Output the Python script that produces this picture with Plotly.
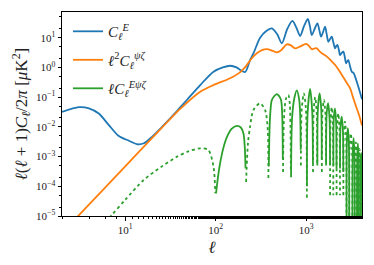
import plotly.graph_objects as go
import math

# ---- data ----
ell_E = [2, 3.08, 3.97, 5.1, 6.6, 8.5, 11, 13.6, 16.1, 19.9, 25.6, 36, 40.5, 48, 67.5, 94.7, 120,
         144.5, 170, 187, 212, 240, 262, 310, 360, 418, 480, 539, 620, 706, 790, 859, 950, 1045,
         1100, 1156, 1245, 1334, 1400, 1465, 1545, 1622, 1690, 1763, 1840, 1922, 2000, 2091,
         2150, 2218, 2300, 2375, 2480, 2583, 2680, 2767, 2850, 2931, 3060, 3199, 3350, 3478,
         3782, 4150]
C_E = [0.032, 0.046, 0.042, 0.028, 0.0114, 0.0049, 0.0034, 0.0026, 0.0028, 0.0047, 0.01, 0.03,
       0.045, 0.08, 0.255, 0.72, 1.0, 1.14, 1.0, 0.82, 0.7, 1.77, 3.0, 10, 16.5, 20.7, 13, 6.5,
       20, 37, 20, 11.4, 25, 42.7, 25, 12.3, 20, 30.5, 18, 10.8, 16, 23.5, 13, 7.3, 9, 10.8, 7,
       4.4, 5.2, 5.7, 4, 2.6, 3.1, 3.4, 2.2, 1.37, 1.6, 1.77, 1.1, 0.72, 0.65, 0.49, 0.224,
       0.085]

ell_psi = [2, 3.08, 10, 20, 40.5, 67.5, 94.7, 144.5, 179, 200, 221, 250, 285, 330, 368, 420, 474,
           530, 612, 680, 755, 850, 1000, 1080, 1156, 1230, 1313, 1420, 1490, 1700, 1922, 2150,
           2375, 2600, 2820, 3062, 3330, 3600, 3850, 4150]
C_psi = [2.7e-6, 1.07e-5, 4.7e-4, 0.0043, 0.04, 0.152, 0.255, 0.43, 0.63, 0.85, 1.2, 2.0, 3.0,
         3.9, 4.15, 3.7, 3.2, 3.8, 6.0, 5.5, 4.4, 5.0, 6.2, 5.2, 4.1, 4.3, 4.4, 3.4, 3.0, 2.3,
         1.6, 1.1, 0.7, 0.45, 0.3, 0.2, 0.09, 0.045, 0.025, 0.011]

# cross spectrum: positive part (solid), arches separated by None
ell_Epsi_pos = [101, 106, 112, 122, 133, 150, 171, 190, 203, 210, 214, None,
                387, 395, 405, 418, 474, 525, 543, 553, None,
                682, 700, 740, 789, 840, 862, 872, None,
                1022, 1040, 1107, 1170, 1190, None,
                1332, 1350, 1410, 1470, 1490, None,
                1665, 1690, 1750, 1815, 1840, None,
                2002, 2025, 2085, 2145, 2170, None,
                2372, 2400, 2475, 2550, 2580, None,
                2802, 2830, 2900, 2970, 3000, None,
                3252, 3280, 3350, 3420, 3450, None,
                3652, 3680, 3735, 3790, 3820, None,
                3982, 4010, 4080, 4140, 4160]
C_Epsi_pos = [5.8e-5, 2e-4, 6e-4, 2e-3, 4.5e-3, 8.5e-3, 0.0108, 0.0095, 0.006, 0.002, 4e-4, None,
              4.6e-4, 0.01, 0.04, 0.08, 0.127, 0.085, 0.03, 8e-4, None,
              2e-4, 0.02, 0.09, 0.17, 0.08, 0.02, 1.7e-3, None,
              1e-4, 0.03, 0.19, 0.03, 6e-4, None,
              5e-4, 0.04, 0.134, 0.04, 8e-4, None,
              5e-4, 0.03, 0.063, 0.02, 5e-4, None,
              5e-4, 0.02, 0.042, 0.015, 4e-4, None,
              4e-4, 0.01, 0.022, 0.008, 3e-4, None,
              1e-5, 0.004, 0.009, 0.003, 1e-6, None,
              1e-6, 0.0015, 0.0042, 0.0012, 1e-6, None,
              1e-6, 0.001, 0.0028, 0.001, 1e-6, None,
              1e-6, 8e-4, 0.0013, 5e-4, 1e-6]

# cross spectrum: negative part (dotted), magnitude
ell_Epsi_neg = [5, 7.1, 10, 15.9, 25, 37.2, 50, 67.5, 83, 94.7, 99, None,
                217, 228, 240, 262, 310, 352, 375, 383, None,
                556, 570, 600, 637, 660, 672, 678, None,
                875, 895, 945, 995, 1019, None,
                1193, 1210, 1259, 1310, 1328, None,
                1493, 1515, 1575, 1640, 1661, None,
                1843, 1865, 1920, 1975, 1998, None,
                2173, 2200, 2270, 2340, 2368, None,
                2583, 2610, 2690, 2770, 2798, None,
                3003, 3030, 3120, 3220, 3248, None,
                3453, 3480, 3550, 3620, 3648, None,
                3823, 3845, 3900, 3955, 3978]
C_Epsi_neg = [3e-6, 1.07e-5, 3.5e-5, 1.6e-4, 4.5e-4, 9.8e-4, 1.5e-3, 1.9e-3, 1.66e-3, 4.6e-4, 5.8e-5, None,
              1.4e-4, 3e-3, 0.01, 0.037, 0.062, 0.037, 0.01, 1.5e-4, None,
              3e-4, 0.02, 0.09, 0.118, 0.06, 0.01, 3e-4, None,
              5e-4, 0.04, 0.134, 0.04, 3.4e-5, None,
              3e-4, 0.03, 0.10, 0.03, 5e-4, None,
              3e-4, 0.03, 0.08, 0.025, 5e-4, None,
              5e-5, 0.015, 0.045, 0.015, 5e-5, None,
              5e-5, 0.01, 0.028, 0.009, 5e-5, None,
              5e-5, 0.006, 0.015, 0.005, 1e-5, None,
              1e-6, 0.002, 0.006, 0.002, 1e-6, None,
              1e-6, 0.001, 0.003, 0.001, 1e-6, None,
              1e-6, 6e-4, 0.0018, 6e-4, 1e-6]

x_tickvals = [10, 100, 1000]
x_ticktext = ["10<sup>1</sup>", "10<sup>2</sup>", "10<sup>3</sup>"]
y_tickvals = [1e1, 1e0, 1e-1, 1e-2, 1e-3, 1e-4, 1e-5]
y_ticktext = ["10<sup>1</sup>", "10<sup>0</sup>", "10<sup>\u22121</sup>", "10<sup>\u22122</sup>",
              "10<sup>\u22123</sup>", "10<sup>\u22124</sup>", "10<sup>\u22125</sup>"]

BLUE, ORANGE, GREEN = "#1f77b4", "#ff7f0e", "#2ca02c"
FONT = "Liberation Serif"

fig = go.Figure()
fig.add_trace(go.Scatter(x=ell_E, y=C_E, mode="lines", legendgroup="a",
                         name="<i>C</i><sub><i>ℓ</i></sub><sup><i>E</i></sup>",
                         line=dict(color=BLUE, width=1.8, shape="spline", smoothing=0.8)))
fig.add_trace(go.Scatter(x=ell_psi, y=C_psi, mode="lines", legendgroup="b",
                         name="<i>ℓ</i><sup>2</sup><i>C</i><sub><i>ℓ</i></sub><sup><i>ψζ</i></sup>",
                         line=dict(color=ORANGE, width=1.8, shape="spline", smoothing=0.8)))
fig.add_trace(go.Scatter(x=ell_Epsi_pos, y=C_Epsi_pos, mode="lines", legendgroup="c",
                         name="<i>ℓC</i><sub><i>ℓ</i></sub><sup><i>Eψζ</i></sup>",
                         line=dict(color=GREEN, width=1.8, shape="spline", smoothing=0.8),
                         connectgaps=False))
fig.add_trace(go.Scatter(x=ell_Epsi_neg, y=C_Epsi_neg, mode="lines", showlegend=False,
                         legendgroup="c",
                         line=dict(color=GREEN, width=1.8, dash="dot", shape="spline", smoothing=0.8),
                         connectgaps=False))

axis_common = dict(showline=True, linecolor="black", linewidth=1, mirror=True,
                   ticks="outside", ticklen=3.5, tickwidth=0.8, tickcolor="black",
                   showgrid=False, zeroline=False, automargin=False,
                   tickfont=dict(family=FONT, size=11, color="#222"),
                   minor=dict(ticks="outside", ticklen=2, tickwidth=0.6, tickcolor="black",
                              showgrid=False))

fig.update_xaxes(type="log", range=[math.log10(2), math.log10(4150)],
                 tickvals=x_tickvals, ticktext=x_ticktext,
                 title=dict(text="<i>ℓ</i>", font=dict(family=FONT, size=17, color="#222"), standoff=6),
                 **axis_common)
fig.update_yaxes(type="log", range=[-5, 1.865],
                 tickvals=y_tickvals, ticktext=y_ticktext,
                 title=dict(text="<i>ℓ</i>(<i>ℓ</i> + 1)<i>C</i><sub><i>ℓ</i></sub>/2<i>π</i> [<i>μ</i>K<sup>2</sup>]",
                            font=dict(family=FONT, size=17, color="#222"), standoff=4),
                 **axis_common)

fig.update_layout(
    width=374, height=265,
    margin=dict(l=62, r=12, t=12, b=49),
    paper_bgcolor="white", plot_bgcolor="white",
    font=dict(family=FONT, color="#222"),
    legend=dict(x=0.02, y=0.985, xanchor="left", yanchor="top", bgcolor="rgba(0,0,0,0)",
                font=dict(family=FONT, size=15, color="#222"), tracegroupgap=6,
                itemwidth=30),
    showlegend=True,
)

fig.write_html("out.html", config={"displayModeBar": False},
               post_script="document.body.style.margin='0';document.body.style.padding='0';")
